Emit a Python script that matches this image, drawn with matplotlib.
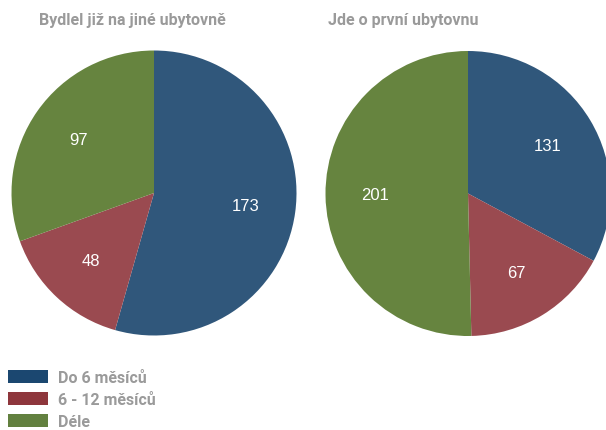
import matplotlib.pyplot as plt
from matplotlib.patches import Patch

categories = ["Do 6 měsíců", "6 - 12 měsíců", "Déle"]
titles = ["Bydlel již na jiné ubytovně", "Jde o první ubytovnu"]
values_left = [173, 48, 97]
values_right = [131, 67, 201]

pie_colors = ["#30577b", "#9a4a50", "#66843f"]
legend_colors = ["#1b4770", "#8e363c", "#62803f"]
grey = "#9a9a9a"
text_font = ["Roboto", "DejaVu Sans"]

W, H = 606, 431
fig = plt.figure(figsize=(W / 100, H / 100), dpi=100)

R = 142.5
centers = [(154, 194), (468, 194.5)]
title_x = [132, 403]

for (cx, cy), tx, vals, title in zip(centers, title_x, [values_left, values_right], titles):
    ax = fig.add_axes([(cx - R) / W, (H - cy - R) / H, 2 * R / W, 2 * R / H])
    wedges, texts = ax.pie(vals, colors=pie_colors, startangle=90, counterclock=False,
                           labels=[str(v) for v in vals], labeldistance=0.65,
                           textprops=dict(color="white", fontsize=12, family="Liberation Sans"))
    for t in texts:
        t.set_ha("center")
        t.set_va("center")
    ax.set_xlim(-1, 1)
    ax.set_ylim(-1, 1)
    ax.set_aspect("equal")
    fig.text(tx / W, 1 - 20 / H, title, ha="center", va="center", fontsize=11.5,
             fontweight="bold", color=grey, family=text_font)

handles = [Patch(facecolor=c, edgecolor="none") for c in legend_colors]
fig.legend(handles, categories, loc="upper left", bbox_to_anchor=(8 / W, 1 - 371 / H),
           frameon=False, handlelength=2.5, handleheight=0.85,
           handletextpad=0.6, labelspacing=0.45, borderaxespad=0, borderpad=0,
           prop=dict(family=text_font, weight="bold", size=11.5), labelcolor=grey)

fig.savefig("out.png", dpi=100)
